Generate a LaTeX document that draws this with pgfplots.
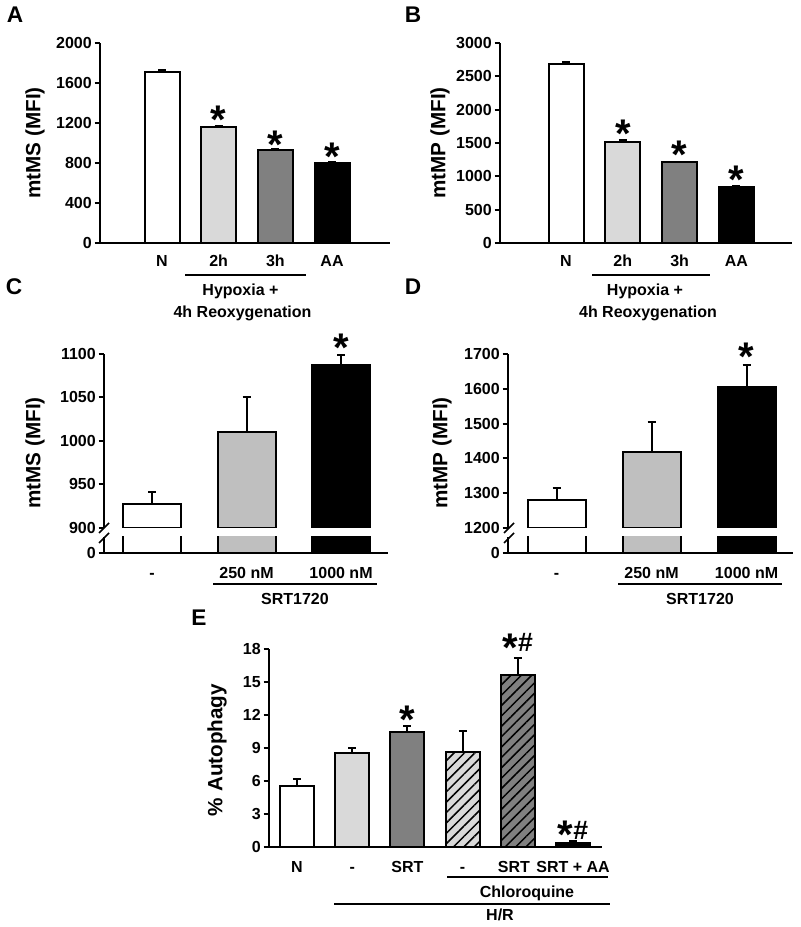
\documentclass[border=0pt]{standalone}
\usepackage{pgfplots}
\pgfplotsset{compat=1.18}
\usepackage{fontspec}
\setmainfont{Liberation Sans}
\usetikzlibrary{patterns.meta}

\definecolor{lg}{gray}{0.85}
\definecolor{mg}{gray}{0.5}
\definecolor{cg}{gray}{0.75}

\newcommand{\sast}{{\bfseries\fontsize{30}{30}\selectfont\raisebox{-0.33em}{*}}}
\newcommand{\shash}{{\bfseries\fontsize{20}{20}\selectfont\raisebox{-3pt}{\#}}}

\pgfplotsset{
  panel/.style={
    scale only axis,
    anchor=south west,
    axis x line*=bottom, axis y line*=left,
    axis line style={line width=1.5pt, -},
    tick align=outside,
    major tick length=4pt,
    every tick/.style={black, line width=1.5pt},
    major x tick style={draw=none},
    /pgf/number format/assume math mode=true,
    /pgf/number format/1000 sep={},
    scaled y ticks=false,
    ticklabel style={font=\bfseries\fontsize{12}{12}\selectfont},
    yticklabel style={anchor=east, inner sep=0pt, xshift=-2pt},
    xticklabel style={anchor=base, inner sep=0pt},
    clip mode=individual,
  },
  bar/.style={ybar, bar shift=0pt, draw=black, line width=1.5pt,
    error bars/y dir=plus, error bars/y explicit,
    error bars/error bar style={line width=1.5pt, black},
    error bars/error mark options={rotate=90, line width=1.5pt, black, mark size=3pt}},
  hatch/.style={postaction={pattern={Lines[angle=45, distance=5.5pt, line width=1.1pt]}, pattern color=black}},
}

\begin{document}
\begin{tikzpicture}[x=0.75pt, y=0.75pt]
\path[use as bounding box] (0,0) rectangle (800,927);

% ---------- Panel A ----------
\begin{axis}[panel, at={(75pt,513pt)}, width=217.5pt, height=150pt,
  xmin=-1.094, xmax=4.023, ymin=0, ymax=2000, ytick={0,400,...,2000},
  xtick={0,1,2,3}, xticklabels={N,2h,3h,AA}, xticklabel style={yshift=-14pt}]
\addplot[fill=white, bar width=26.25pt, bar] coordinates {(0,1710) +- (0,20)};
\addplot[fill=lg, bar width=26.25pt, bar] coordinates {(1,1160) +- (0,12)};
\addplot[fill=mg, bar width=26.25pt, bar] coordinates {(2,930) +- (0,12)};
\addplot[fill=black, bar width=26.25pt, bar] coordinates {(3,800) +- (0,10)};
\node[anchor=base] at (axis cs:1,1230) {\sast};
\node[anchor=base] at (axis cs:2,980) {\sast};
\node[anchor=base] at (axis cs:3,860) {\sast};
\end{axis}

% ---------- Panel B ----------
\begin{axis}[panel, at={(375pt,513pt)}, width=219pt, height=150pt,
  xmin=-1.162, xmax=3.979, ymin=0, ymax=3000, ytick={0,500,...,3000},
  xtick={0,1,2,3}, xticklabels={N,2h,3h,AA}, xticklabel style={yshift=-14pt}]
\addplot[fill=white, bar width=26.25pt, bar] coordinates {(0,2690) +- (0,25)};
\addplot[fill=lg, bar width=26.25pt, bar] coordinates {(1,1515) +- (0,35)};
\addplot[fill=mg, bar width=26.25pt, bar] coordinates {(2,1210) +- (0,10)};
\addplot[fill=black, bar width=26.25pt, bar] coordinates {(3,840) +- (0,20)};
\node[anchor=base] at (axis cs:1,1635) {\sast};
\node[anchor=base] at (axis cs:2,1320) {\sast};
\node[anchor=base] at (axis cs:3,945) {\sast};
\end{axis}

% ---------- Panel C (upper) ----------
\begin{axis}[panel, at={(78pt,299.25pt)}, width=213pt, height=130.5pt,
  axis x line=none,
  xmin=-0.508, xmax=2.497, ymin=900, ymax=1100, ytick={900,950,...,1100}]
\addplot[fill=white, bar width=43.5pt, bar] coordinates {(0,928) +- (0,13)};
\addplot[fill=cg, bar width=43.5pt, bar] coordinates {(1,1010) +- (0,40)};
\addplot[fill=black, bar width=43.5pt, bar] coordinates {(2,1087) +- (0,12)};
\node[anchor=base] at (axis cs:2,1107) {\sast};
\end{axis}
% ---------- Panel C (lower) ----------
\begin{axis}[panel, at={(78pt,280.5pt)}, width=213pt, height=12pt,
  xmin=-0.508, xmax=2.497, ymin=0, ymax=100, ytick={0},
  xtick={0,1,2}, xticklabels={-,250 nM,1000 nM}, xticklabel style={yshift=-15.5pt}]
\addplot[fill=white, bar width=43.5pt, ybar, bar shift=0pt, draw=black, line width=1.5pt] coordinates {(0,928)};
\addplot[fill=cg, bar width=43.5pt, ybar, bar shift=0pt, draw=black, line width=1.5pt] coordinates {(1,1010)};
\addplot[fill=black, bar width=43.5pt, ybar, bar shift=0pt, draw=black, line width=1.5pt] coordinates {(2,1087)};
\end{axis}

% ---------- Panel D (upper) ----------
\begin{axis}[panel, at={(381pt,299.25pt)}, width=213.75pt, height=130.5pt,
  axis x line=none,
  xmin=-0.511, xmax=2.489, ymin=1200, ymax=1700, ytick={1200,1300,...,1700}]
\addplot[fill=white, bar width=43.5pt, bar] coordinates {(0,1280) +- (0,35)};
\addplot[fill=cg, bar width=43.5pt, bar] coordinates {(1,1418) +- (0,88)};
\addplot[fill=black, bar width=43.5pt, bar] coordinates {(2,1605) +- (0,63)};
\node[anchor=base] at (axis cs:2,1691) {\sast};
\end{axis}
% ---------- Panel D (lower) ----------
\begin{axis}[panel, at={(381pt,280.5pt)}, width=213.75pt, height=12pt,
  xmin=-0.511, xmax=2.489, ymin=0, ymax=100, ytick={0},
  xtick={0,1,2}, xticklabels={-,250 nM,1000 nM}, xticklabel style={yshift=-15.5pt}]
\addplot[fill=white, bar width=43.5pt, ybar, bar shift=0pt, draw=black, line width=1.5pt] coordinates {(0,1280)};
\addplot[fill=cg, bar width=43.5pt, ybar, bar shift=0pt, draw=black, line width=1.5pt] coordinates {(1,1418)};
\addplot[fill=black, bar width=43.5pt, ybar, bar shift=0pt, draw=black, line width=1.5pt] coordinates {(2,1605)};
\end{axis}

% ---------- Panel E ----------
\begin{axis}[panel, at={(201.75pt,60pt)}, width=249.75pt, height=148.5pt,
  xmin=-0.507, xmax=5.525, ymin=0, ymax=18, ytick={0,3,...,18},
  xtick={0,1,2,3,3.93,5}, xticklabels={N,-,SRT,-,SRT,SRT + AA}, xticklabel style={yshift=-14.8pt}]
\addplot[fill=white, bar width=25.5pt, bar] coordinates {(0,5.5) +- (0,0.65)};
\addplot[fill=lg, bar width=25.5pt, bar] coordinates {(1,8.55) +- (0,0.45)};
\addplot[fill=mg, bar width=25.5pt, bar] coordinates {(2,10.45) +- (0,0.55)};
\addplot[fill=lg, bar width=25.5pt, hatch, bar] coordinates {(3,8.65) +- (0,1.85)};
\addplot[fill=mg, bar width=25.5pt, hatch, bar] coordinates {(4,15.6) +- (0,1.6)};
\addplot[fill=black, bar width=25.5pt, bar] coordinates {(5,0.4) +- (0,0.1)};
\node[anchor=base] at (axis cs:2,11.55) {\sast};
\node[anchor=base] at (axis cs:4,18.1) {\sast\shash};
\node[anchor=base] at (axis cs:5,1.09) {\sast\shash};
\end{axis}

% ---------- annotations ----------
\begin{scope}[font=\bfseries\fontsize{12}{12}\selectfont]
\draw[line width=1.1pt] (185,652) -- (306,652);
\node[anchor=base] at (240.5,631.3) {Hypoxia +};
\node[anchor=base] at (242.5,609.3) {4h Reoxygenation};
\draw[line width=1.1pt] (592,652) -- (710,652);
\node[anchor=base] at (645,631.3) {Hypoxia +};
\node[anchor=base] at (648,609.3) {4h Reoxygenation};
\draw[line width=1.1pt] (213,343) -- (377,343);
\node[anchor=base] at (295,322.3) {SRT1720};
\draw[line width=1.1pt] (618,343) -- (782,343);
\node[anchor=base] at (700,322.3) {SRT1720};
\draw[line width=1.1pt] (447,50) -- (608,50);
\node[anchor=base] at (527,29.3) {Chloroquine};
\draw[line width=1.1pt] (334,23) -- (610,23);
\node[anchor=base] at (500,6.3) {H/R};
\end{scope}

\begin{scope}[font=\bfseries\fontsize{15.5}{15.5}\selectfont]
\node[rotate=90] at (35,784) {mtMS (MFI)};
\node[rotate=90] at (440,784) {mtMP (MFI)};
\node[rotate=90] at (35,474) {mtMS (MFI)};
\node[rotate=90] at (442,474) {mtMP (MFI)};
\node[rotate=90] at (217,177) {\% Autophagy};
\end{scope}

\begin{scope}[font=\bfseries\fontsize{17}{17}\selectfont]
\node at (15,912) {A};
\node at (413,912) {B};
\node at (14,640) {C};
\node at (413,640) {D};
\node at (199,309) {E};
\end{scope}

% axis breaks
\draw[line width=1.2pt] (99,394) -- (109,404);
\draw[line width=1.2pt] (99,384) -- (109,394);
\draw[line width=1.2pt] (504,394) -- (514,404);
\draw[line width=1.2pt] (504,384) -- (514,394);
\end{tikzpicture}
\end{document}
